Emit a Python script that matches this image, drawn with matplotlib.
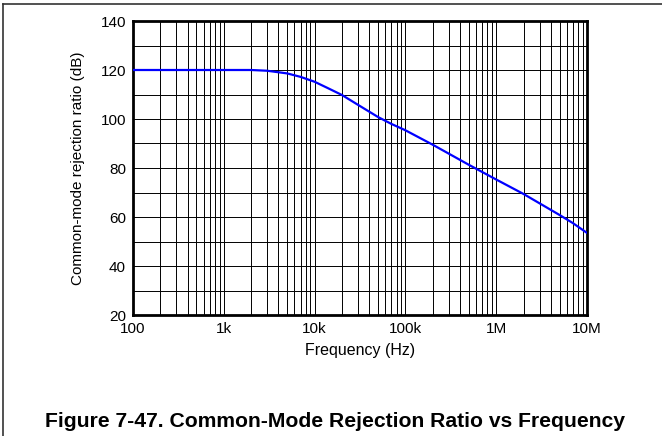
import matplotlib
matplotlib.use('Agg')
import matplotlib.pyplot as plt
from matplotlib.lines import Line2D
from matplotlib.ticker import FixedLocator, LogLocator, MultipleLocator, NullFormatter

plt.rcParams['font.family'] = ['Liberation Sans', 'DejaVu Sans']

# CMRR curve
freq_hz = [100, 300, 1e3, 2e3, 3e3, 5e3, 7e3, 1e4, 1.4e4, 2e4, 3e4, 5e4, 7e4,
           1e5, 2e5, 5e5, 1e6, 2e6, 5e6, 7e6, 1e7]
cmrr_db = [120, 120, 120, 120, 119.7, 118.6, 117.2, 115.2, 112.6, 109.8, 105.8, 100.8, 98.0,
           95.4, 89.5, 81.3, 75.3, 69.4, 60.8, 57.5, 53.5]

xticks = [1e2, 1e3, 1e4, 1e5, 1e6, 1e7]
xtick_labels = ['100', '1k', '10k', '100k', '1M', '10M']
yticks = [20, 40, 60, 80, 100, 120, 140]

W, H = 662, 436
fig = plt.figure(figsize=(W / 100, H / 100), dpi=100)
ax = fig.add_axes([133 / W, 1 - 315 / H, (587 - 133) / W, (315 - 21) / H])

ax.plot(freq_hz, cmrr_db, color='#0000ff', lw=1.6, zorder=3)

ax.set_xscale('log')
ax.set_xlim(1e2, 1e7)
ax.set_ylim(20, 140)
ax.xaxis.set_major_locator(FixedLocator(xticks))
ax.set_xticklabels(xtick_labels)
ax.xaxis.set_minor_locator(LogLocator(base=10, subs=range(2, 10)))
ax.xaxis.set_minor_formatter(NullFormatter())
ax.set_yticks(yticks)
ax.yaxis.set_minor_locator(MultipleLocator(10))

ax.grid(which='both', color='black', lw=0.7)
ax.tick_params(which='both', length=0, labelsize=11, pad=5)
for s in ax.spines.values():
    s.set_linewidth(2.0)

ax.set_xlabel('Frequency (Hz)', fontsize=11.5, va='center')
ax.xaxis.set_label_coords(0.5, (315 - 350) / 294)
ax.set_ylabel('Common-mode rejection ratio (dB)', fontsize=11, va='center')
ax.yaxis.set_label_coords((78 - 133) / 454, 0.5)

# frame lines along top and left edge
fig.add_artist(Line2D([3 / W, 1], [1 - 4 / H, 1 - 4 / H], color='#333333', lw=1.2))
fig.add_artist(Line2D([3 / W, 3 / W], [0, 1 - 4 / H], color='#333333', lw=1.2))

fig.text(335 / W, 1 - 421 / H, 'Figure 7-47. Common-Mode Rejection Ratio vs Frequency',
         ha='center', va='center', fontsize=15.2, fontweight='bold')

fig.savefig('out.png', dpi=100)
